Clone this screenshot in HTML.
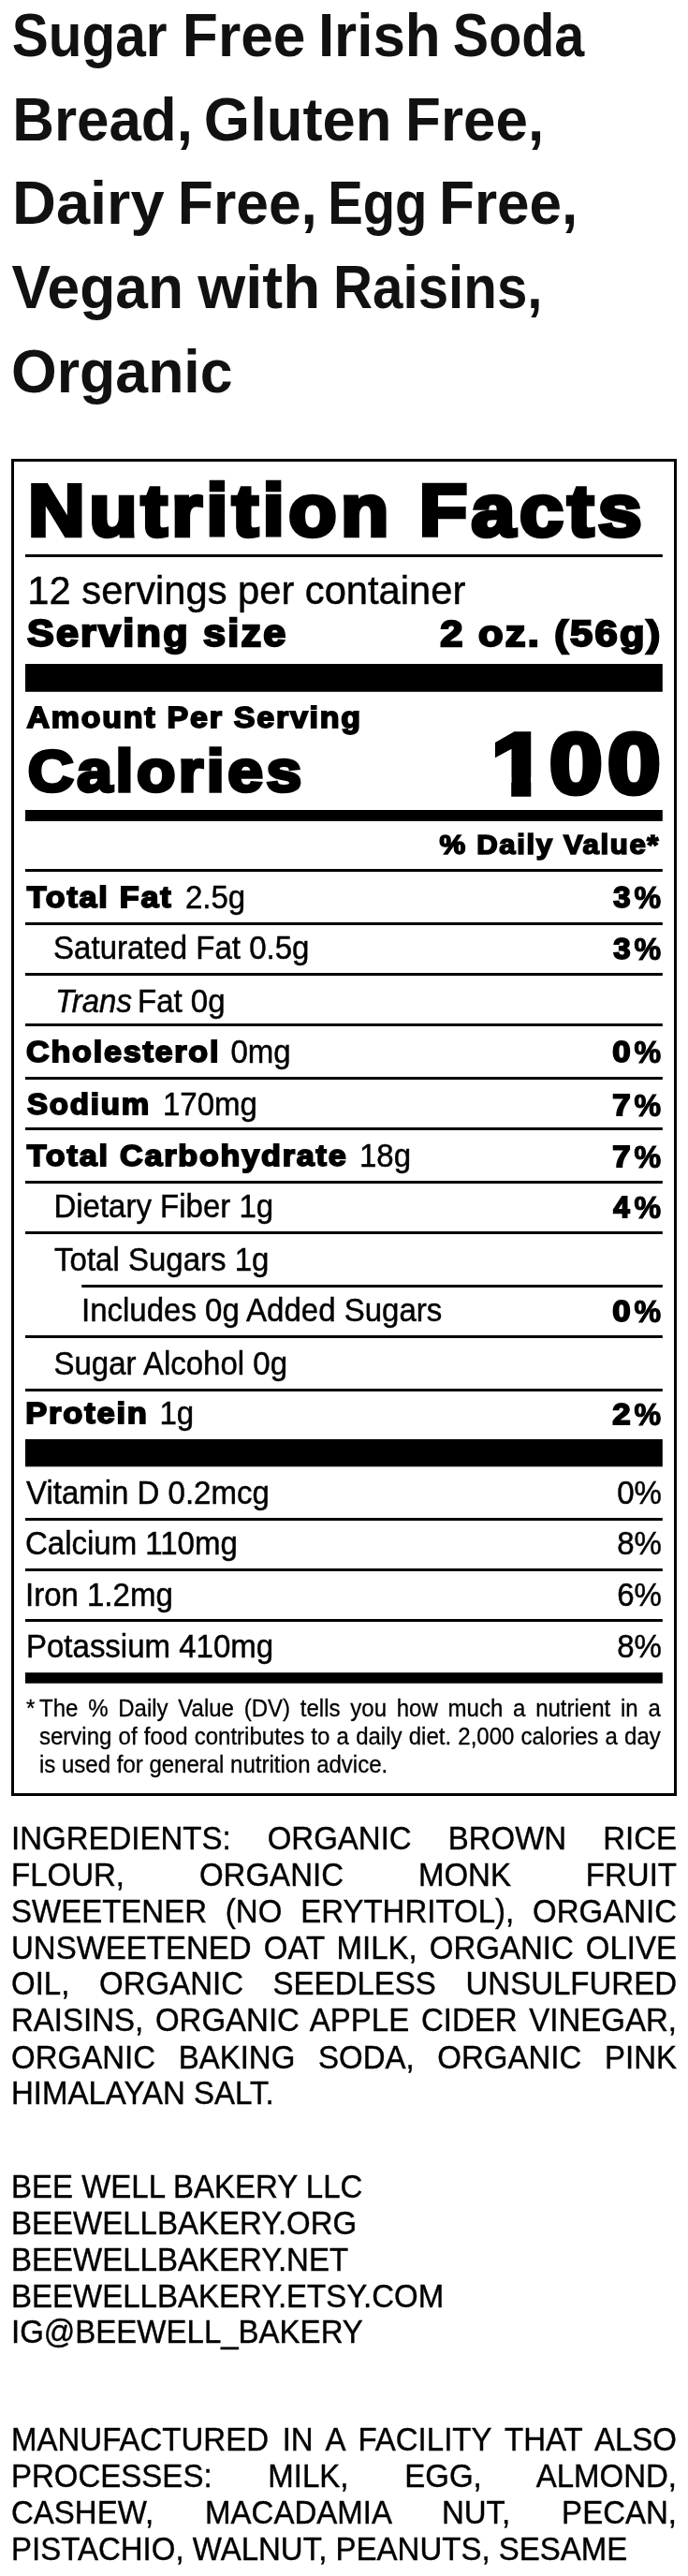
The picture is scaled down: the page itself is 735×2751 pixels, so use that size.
<!DOCTYPE html>
<html lang="en"><head><meta charset="utf-8"><title>Sugar Free Irish Soda Bread</title>
<style>
html,body{margin:0;padding:0;background:#fff}
body{width:735px;height:2751px;position:relative;overflow:hidden;will-change:transform;font-family:"Liberation Sans",sans-serif;color:#000}
svg{position:absolute;left:0;top:0}
svg text{font-family:"Liberation Sans",sans-serif;white-space:pre}
.r{stroke:#000;stroke-width:.45px}
.k{font-weight:bold;stroke:#000;stroke-linejoin:miter;stroke-miterlimit:3}
.b{font-weight:bold}
.p{position:absolute;left:12px;width:711px;margin:0;font-size:33px;line-height:37.284px;transform-origin:0 0;transform:scaleY(1.0415);text-align:justify;color:#000;-webkit-text-stroke:0.4px #000}
.f{position:absolute;left:42px;width:663.80px;margin:0;font-size:24px;line-height:28.806px;transform-origin:0 0;transform:scaleY(1.0415);-webkit-text-stroke:0.3px #000;white-space:nowrap;text-align:justify;text-align-last:justify}
.f.l{text-align:left;text-align-last:left}
</style></head><body>
<svg width="735" height="2751" viewBox="0 0 735 2751">
<rect x="13.5" y="491.5" width="708" height="1425" fill="none" stroke="#000" stroke-width="3"/>
<rect x="27" y="592" width="680.8" height="3"/>
<rect x="27" y="709" width="680.8" height="29.8"/>
<rect x="27" y="865" width="680.8" height="11.9"/>
<rect x="27" y="928" width="680.8" height="3"/>
<rect x="27" y="985" width="680.8" height="3"/>
<rect x="27" y="1039" width="680.8" height="3"/>
<rect x="27" y="1093" width="680.8" height="3"/>
<rect x="27" y="1150" width="680.8" height="3"/>
<rect x="27" y="1204" width="680.8" height="3"/>
<rect x="27" y="1261" width="680.8" height="3"/>
<rect x="27" y="1315" width="680.8" height="3"/>
<rect x="27" y="1426" width="680.8" height="3"/>
<rect x="27" y="1483" width="680.8" height="3"/>
<rect x="87.25" y="1372" width="620.55" height="3"/>
<rect x="27" y="1537" width="680.8" height="29.3"/>
<rect x="27" y="1621" width="680.8" height="3"/>
<rect x="27" y="1675" width="680.8" height="3"/>
<rect x="27" y="1729" width="680.8" height="3"/>
<rect x="27" y="1786.2" width="680.8" height="11.5"/>
<text transform="translate(12.85,60.20) scale(0.8996,1.0000)" font-size="65.00" class="b" fill="#111">Sugar</text>
<text transform="translate(194.86,60.20) scale(0.9592,1.0000)" font-size="65.00" class="b" fill="#111">Free</text>
<text transform="translate(339.89,60.20) scale(0.9532,1.0000)" font-size="65.00" class="b" fill="#111">Irish</text>
<text transform="translate(483.82,60.20) scale(0.8837,1.0000)" font-size="65.00" class="b" fill="#111">Soda</text>
<text transform="translate(13.19,149.80) scale(0.9524,1.0000)" font-size="65.00" class="b" fill="#111">Bread,</text>
<text transform="translate(217.85,149.80) scale(0.9754,1.0000)" font-size="65.00" class="b" fill="#111">Gluten</text>
<text transform="translate(433.09,149.80) scale(0.9532,1.0000)" font-size="65.00" class="b" fill="#111">Free,</text>
<text transform="translate(13.00,239.40) scale(0.9997,1.0000)" font-size="65.00" class="b" fill="#111">Dairy</text>
<text transform="translate(189.86,239.40) scale(0.9593,1.0000)" font-size="65.00" class="b" fill="#111">Free,</text>
<text transform="translate(350.24,239.40) scale(0.8656,1.0000)" font-size="65.00" class="b" fill="#111">Egg</text>
<text transform="translate(469.08,239.40) scale(0.9538,1.0000)" font-size="65.00" class="b" fill="#111">Free,</text>
<text transform="translate(12.50,329.00) scale(0.9586,1.0000)" font-size="65.00" class="b" fill="#111">Vegan</text>
<text transform="translate(211.21,329.00) scale(1.0074,1.0000)" font-size="65.00" class="b" fill="#111">with</text>
<text transform="translate(356.01,329.00) scale(0.8967,1.0000)" font-size="65.00" class="b" fill="#111">Raisins,</text>
<text transform="translate(12.07,418.60) scale(0.9630,1.0000)" font-size="65.00" class="b" fill="#111">Organic</text>
<text transform="translate(30.04,571.74) scale(1.0788,1.0000)" font-size="77.93" class="k" stroke-width="4.52" letter-spacing="4.07">Nutrition</text>
<text transform="translate(447.63,571.74) scale(1.0829,1.0000)" font-size="77.93" class="k" stroke-width="4.52" letter-spacing="4.07">Facts</text>
<text transform="translate(29.36,645.30) scale(1.0000,1.0415)" font-size="41.69" class="r">12 servings per container</text>
<text transform="translate(28.88,689.83) scale(1.0715,1.0000)" font-size="40.24" class="k" stroke-width="2.33" letter-spacing="2.10">Serving size</text>
<text transform="translate(470.17,689.85) scale(1.0937,1.0000)" font-size="39.71" class="k" stroke-width="2.30" letter-spacing="2.07">2 oz. (56g)</text>
<text transform="translate(28.48,776.60) scale(1.0958,1.0000)" font-size="30.99" class="k" stroke-width="1.80" letter-spacing="1.62">Amount Per Serving</text>
<text transform="translate(29.82,845.16) scale(1.0711,1.0000)" font-size="63.31" class="k" stroke-width="3.67" letter-spacing="3.30">Calories</text>
<text transform="translate(524.86,848.11) scale(1.1452,1.0000)" font-size="92.82" class="k" stroke-width="5.38" letter-spacing="4.85">1</text><rect x="520" y="829.5" width="26.2" height="26" fill="#fff"/><rect x="567.3" y="829.5" width="19" height="26" fill="#fff"/><text transform="translate(586.97,847.28) scale(1.1264,1.0000)" font-size="90.40" class="k" stroke-width="5.24" letter-spacing="4.72">00</text>
<text transform="translate(469.60,912.25) scale(1.0642,1.0000)" font-size="29.24" class="k" stroke-width="1.70" letter-spacing="1.53">% Daily Value*</text>
<text transform="translate(28.74,968.84) scale(1.0816,1.0000)" font-size="31.52" class="k" stroke-width="1.83" letter-spacing="1.65">Total Fat</text>
<text transform="translate(198.00,969.75) scale(1.0000,1.0415)" font-size="33.00" class="r">2.5g</text>
<text transform="translate(655.36,969.37) scale(1.0258,1.0000)" font-size="32.14" class="k" stroke-width="1.86" letter-spacing="1.68">3</text><text transform="translate(677.46,970.37) scale(0.9732,1.0000)" font-size="33.11" class="k" stroke-width="1.16" letter-spacing="1.04">%</text>
<text transform="translate(57.10,1024.40) scale(1.0000,1.0415)" font-size="33.00" class="r">Saturated Fat 0.5g</text>
<text transform="translate(655.36,1024.02) scale(1.0258,1.0000)" font-size="32.14" class="k" stroke-width="1.86" letter-spacing="1.68">3</text><text transform="translate(677.46,1025.02) scale(0.9732,1.0000)" font-size="33.11" class="k" stroke-width="1.16" letter-spacing="1.04">%</text>
<text transform="translate(59.00,1080.60) scale(1.0000,1.0415)" font-size="33.00" class="r" font-style="italic">Trans</text>
<text transform="translate(147.00,1080.60) scale(1.0000,1.0415)" font-size="33.00" class="r">Fat 0g</text>
<text transform="translate(28.01,1133.84) scale(1.0821,1.0000)" font-size="31.52" class="k" stroke-width="1.83" letter-spacing="1.65">Cholesterol</text>
<text transform="translate(246.50,1134.75) scale(1.0000,1.0415)" font-size="33.00" class="r">0mg</text>
<text transform="translate(654.33,1134.37) scale(1.0832,1.0000)" font-size="32.14" class="k" stroke-width="1.86" letter-spacing="1.68">0</text><text transform="translate(677.46,1135.37) scale(0.9732,1.0000)" font-size="33.11" class="k" stroke-width="1.16" letter-spacing="1.04">%</text>
<text transform="translate(29.06,1190.29) scale(1.0507,1.0000)" font-size="31.52" class="k" stroke-width="1.83" letter-spacing="1.65">Sodium</text>
<text transform="translate(174.00,1191.20) scale(1.0000,1.0415)" font-size="33.00" class="r">170mg</text>
<text transform="translate(654.33,1190.82) scale(1.0832,1.0000)" font-size="32.14" class="k" stroke-width="1.86" letter-spacing="1.68">7</text><text transform="translate(677.46,1191.82) scale(0.9732,1.0000)" font-size="33.11" class="k" stroke-width="1.16" letter-spacing="1.04">%</text>
<text transform="translate(28.74,1245.09) scale(1.0835,1.0000)" font-size="31.52" class="k" stroke-width="1.83" letter-spacing="1.65">Total Carbohydrate</text>
<text transform="translate(384.00,1246.00) scale(1.0000,1.0415)" font-size="33.00" class="r">18g</text>
<text transform="translate(654.33,1245.62) scale(1.0832,1.0000)" font-size="32.14" class="k" stroke-width="1.86" letter-spacing="1.68">7</text><text transform="translate(677.46,1246.62) scale(0.9732,1.0000)" font-size="33.11" class="k" stroke-width="1.16" letter-spacing="1.04">%</text>
<text transform="translate(57.40,1299.90) scale(1.0000,1.0415)" font-size="33.00" class="r">Dietary Fiber 1g</text>
<text transform="translate(655.31,1299.52) scale(0.9741,1.0000)" font-size="32.14" class="k" stroke-width="1.86" letter-spacing="1.68">4</text><text transform="translate(677.46,1300.52) scale(0.9732,1.0000)" font-size="33.11" class="k" stroke-width="1.16" letter-spacing="1.04">%</text>
<text transform="translate(58.10,1356.50) scale(1.0000,1.0415)" font-size="33.00" class="r">Total Sugars 1g</text>
<text transform="translate(87.00,1411.00) scale(1.0000,1.0415)" font-size="33.00" class="r">Includes 0g Added Sugars</text>
<text transform="translate(654.33,1410.62) scale(1.0832,1.0000)" font-size="32.14" class="k" stroke-width="1.86" letter-spacing="1.68">0</text><text transform="translate(677.46,1411.62) scale(0.9732,1.0000)" font-size="33.11" class="k" stroke-width="1.16" letter-spacing="1.04">%</text>
<text transform="translate(57.50,1467.60) scale(1.0000,1.0415)" font-size="33.00" class="r">Sugar Alcohol 0g</text>
<text transform="translate(27.31,1520.39) scale(1.0939,1.0000)" font-size="31.52" class="k" stroke-width="1.83" letter-spacing="1.65">Protein</text>
<text transform="translate(170.50,1521.30) scale(1.0000,1.0415)" font-size="33.00" class="r">1g</text>
<text transform="translate(654.33,1520.92) scale(1.0832,1.0000)" font-size="32.14" class="k" stroke-width="1.86" letter-spacing="1.68">2</text><text transform="translate(677.46,1521.92) scale(0.9732,1.0000)" font-size="33.11" class="k" stroke-width="1.16" letter-spacing="1.04">%</text>
<text transform="translate(28.00,1605.50) scale(1.0000,1.0415)" font-size="33.00" class="r">Vitamin D 0.2mcg</text>
<text transform="translate(659.15,1605.50) scale(1.0000,1.0415)" font-size="33.00" class="r">0%</text>
<text transform="translate(27.00,1659.50) scale(1.0000,1.0415)" font-size="33.00" class="r">Calcium 110mg</text>
<text transform="translate(659.15,1659.50) scale(1.0000,1.0415)" font-size="33.00" class="r">8%</text>
<text transform="translate(27.00,1715.00) scale(1.0000,1.0415)" font-size="33.00" class="r">Iron 1.2mg</text>
<text transform="translate(659.15,1715.00) scale(1.0000,1.0415)" font-size="33.00" class="r">6%</text>
<text transform="translate(28.00,1770.30) scale(1.0000,1.0415)" font-size="33.00" class="r">Potassium 410mg</text>
<text transform="translate(659.15,1770.30) scale(1.0000,1.0415)" font-size="33.00" class="r">8%</text>

</svg>
<div class="f l" style="left:28px;top:1810.44px;width:auto">*</div>
<div class="f" style="top:1810.44px">The % Daily Value (DV) tells you how much a nutrient in a</div>
<div class="f" style="top:1840.14px">serving of food contributes to a daily diet. 2,000 calories a day</div>
<div class="f l" style="top:1870.34px">is used for general nutrition advice.</div>
<p class="p" style="top:1943.88px">INGREDIENTS: ORGANIC BROWN RICE FLOUR, ORGANIC MONK FRUIT SWEETENER (NO ERYTHRITOL), ORGANIC UNSWEETENED OAT MILK, ORGANIC OLIVE OIL, ORGANIC SEEDLESS UNSULFURED RAISINS, ORGANIC APPLE CIDER VINEGAR, ORGANIC BAKING SODA, ORGANIC PINK HIMALAYAN SALT.</p>
<p class="p" style="top:2316.43px;text-align:left">BEE WELL BAKERY LLC<br>
BEEWELLBAKERY.ORG<br>
BEEWELLBAKERY.NET<br>
BEEWELLBAKERY.ETSY.COM<br>
IG@BEEWELL_BAKERY</p>
<p class="p" style="top:2586.28px">MANUFACTURED IN A FACILITY THAT ALSO PROCESSES: MILK, EGG, ALMOND, CASHEW, MACADAMIA NUT, PECAN, PISTACHIO, WALNUT, PEANUTS, SESAME</p>
</body></html>
